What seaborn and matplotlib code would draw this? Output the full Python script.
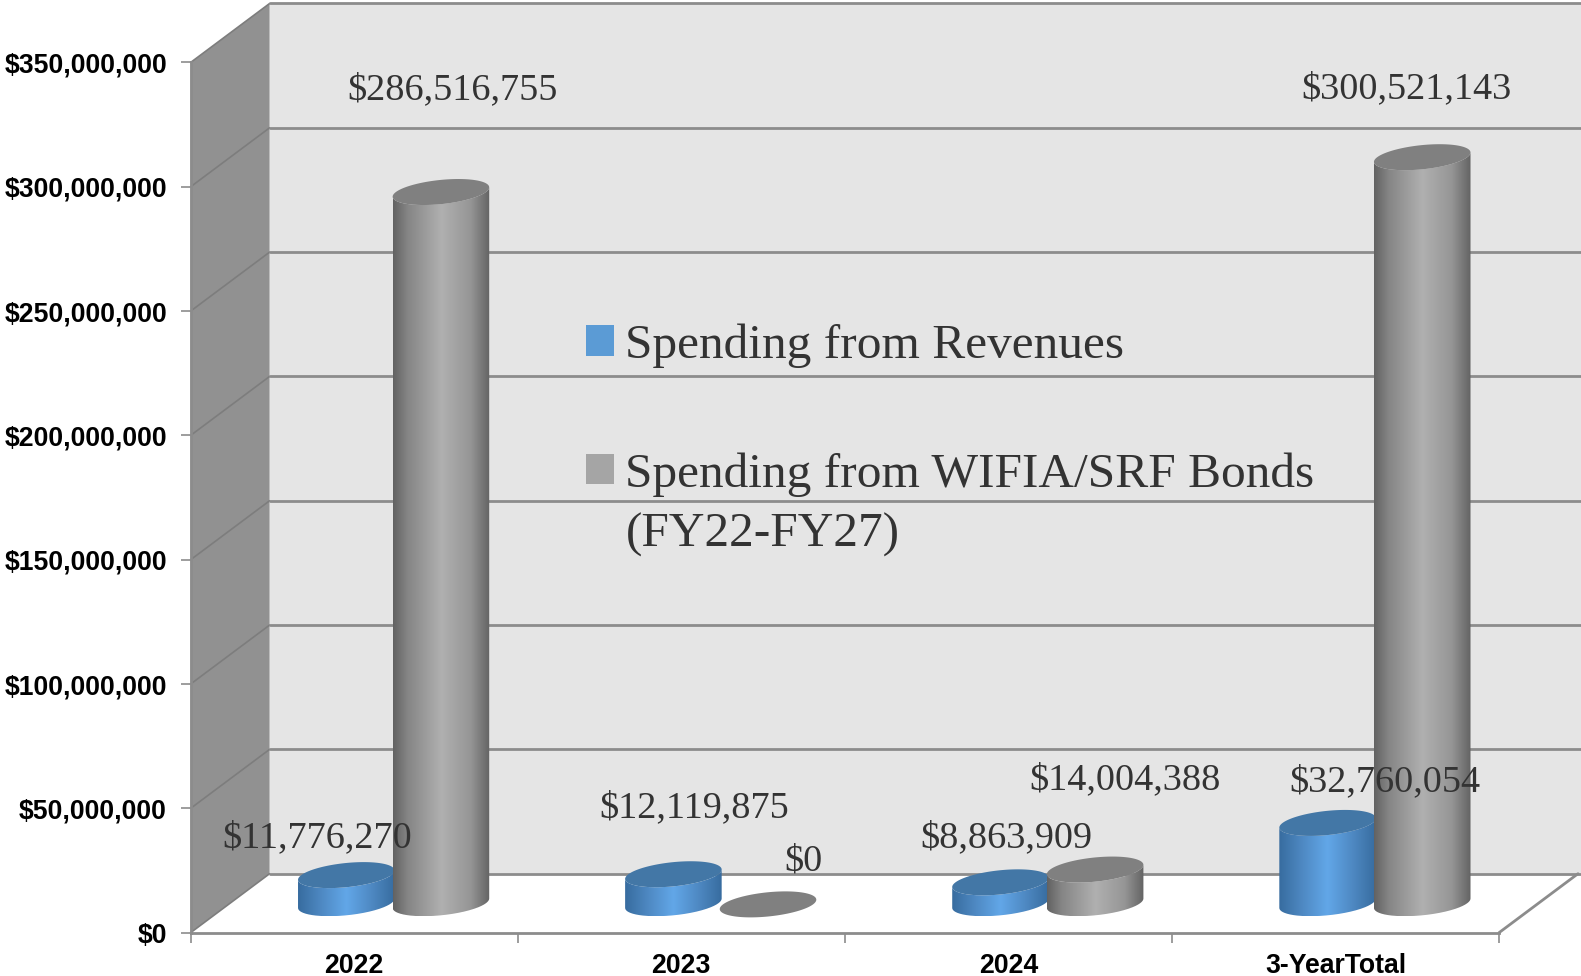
import numpy as np
import pandas as pd
import seaborn as sns
import matplotlib
matplotlib.use('Agg')
import matplotlib.pyplot as plt
from matplotlib.colors import LinearSegmentedColormap
from matplotlib.patches import Polygon
from matplotlib.path import Path
from matplotlib.transforms import IdentityTransform

years = ['2022', '2023', '2024', '3-YearTotal']
revenues = [11776270, 12119875, 8863909, 32760054]
bonds = [286516755, 0, 14004388, 300521143]
source_names = ['Spending from Revenues', 'Spending from WIFIA/SRF Bonds']
value_ticks = [0, 50000000, 100000000, 150000000, 200000000, 250000000, 300000000, 350000000]

df = pd.DataFrame({
    'year': years * 2,
    'amount': revenues + bonds,
    'source': [source_names[0]] * 4 + [source_names[1]] * 4,
})

sns.set_theme(style='white')
plt.rcParams['font.family'] = ['Liberation Sans', 'DejaVu Sans']

W, H = 1581, 976
DEPTH_X, DEPTH_Y = 79, 59
GRID = '#8c8c8c'
SERIF = 'Liberation Serif'

fig = plt.figure(figsize=(W / 100, H / 100), dpi=100)
fig.patch.set_facecolor('white')
ax = fig.add_axes([190.6 / W, 43.3 / H, (1499 - 190.6) / W, (932.7 - 62.5) / H])
ax.patch.set_alpha(0)

sns.barplot(data=df, x='year', y='amount', hue='source', order=years, hue_order=source_names,
            palette=['#5b9bd5', '#a5a5a5'], width=0.6, gap=0, saturation=1, ax=ax)
ax.set_xlim(-0.5, 3.5)
ax.set_ylim(0, 350000000)
ax.autoscale(False)
ax.set_xlabel('')
ax.set_ylabel('')

disp = IdentityTransform()
fig.canvas.draw()


def to_px(x, y, depth=0.0):
    px, py = ax.transData.transform((x, y))
    return px + depth * DEPTH_X, py + depth * DEPTH_Y


def shape(points, **kw):
    ax.add_patch(Polygon(points, closed=True, transform=disp, clip_on=False, **kw))


# walls and floor of the fake 3d box
shape([to_px(-0.5, 0), to_px(-0.5, 350000000), to_px(-0.5, 350000000, 1), to_px(-0.5, 0, 1)],
      facecolor='#919191', edgecolor='none', zorder=0.1)
back_right = (W + 2, to_px(-0.5, 350000000, 1)[1])
shape([to_px(-0.5, 0, 1), to_px(-0.5, 350000000, 1), back_right, (W + 2, to_px(3.5, 0, 1)[1])],
      facecolor='#e5e5e5', edgecolor='none', zorder=0.1)
shape([to_px(-0.5, 0), to_px(3.5, 0), to_px(3.5, 0, 1), to_px(-0.5, 0, 1)],
      facecolor='white', edgecolor='none', zorder=0.1)

for v in value_ticks:
    x0, y0 = to_px(-0.5, v)
    x1, y1 = to_px(-0.5, v, 1)
    ax.plot([x0, x1], [y0, y1], color='#7d7d7d', lw=1.2, transform=disp, clip_on=False, zorder=0.2)
    ax.plot([x1, W + 2], [y1, y1], color=GRID, lw=2, transform=disp, clip_on=False, zorder=0.2)
x0, y0 = to_px(3.5, 0)
x1, y1 = to_px(3.5, 0, 1)
ax.plot([x0, x1], [y0, y1], color=GRID, lw=2, transform=disp, clip_on=False, zorder=0.2)

blue_map = LinearSegmentedColormap.from_list('blue_cyl', ['#376c9f', '#4f8ac4', '#62a7e8', '#4f8ac4', '#376c9f'])
gray_map = LinearSegmentedColormap.from_list(
    'gray_cyl', [(0, '#626262'), (0.15, '#858585'), (0.5, '#b0b0b0'), (0.8, '#969696'), (1, '#636363')])
top_colors = ['#4377a6', '#808080']
grad = np.linspace(0, 1, 256).reshape(1, -1)
t = np.linspace(0, 2 * np.pi, 241)


def ellipse_pts(cx, cy, rx):
    rz = 13.0
    skew = rz * DEPTH_X / DEPTH_Y
    a = np.sqrt(rx ** 2 - skew ** 2)
    return cx + a * np.cos(t) + skew * np.sin(t), cy + rz * np.sin(t)


label_shift = [
    [(-27, 37), (23, 66), (8, 44), (60, 41)],
    [(11, 102), (34, 43), (29, 90), (-17, 68)],
]
value_text = [revenues, bonds]
# blue cylinders sit slightly under the gray ones
overlap = [3.5, 0]

legend_handles, legend_labels = ax.get_legend_handles_labels()
lg = ax.legend(legend_handles, legend_labels, frameon=False, loc='upper left',
               bbox_to_anchor=(0.3024, 0.70), prop={'family': SERIF, 'size': 35.6},
               labelcolor='#333333', handlelength=0.57, handleheight=0.57, handletextpad=0.22,
               labelspacing=1.7, borderpad=0, borderaxespad=0)
for h in lg.legend_handles:
    h.set_edgecolor('none')

for s, bars in enumerate(ax.containers):
    for i, bar in enumerate(bars):
        bar.set_visible(False)
        left, bottom = to_px(bar.get_x(), 0, 0.5)
        right, top = to_px(bar.get_x() + bar.get_width(), bar.get_height(), 0.48)
        cx = (left + right) / 2 + overlap[s] - 1
        rx = (right - left) / 2
        zo = 2 + i + s * 0.5
        bx, by = ellipse_pts(cx, bottom, rx)
        tx, ty = ellipse_pts(cx, top, rx)
        if bar.get_height() > 0:
            il, ir = np.argmin(bx), np.argmax(bx)
            lo = np.roll(np.arange(240), -il)
            lo = lo[:((ir - il) % 240) + 1]
            outline = np.r_[np.c_[bx[lo], by[lo]], np.c_[tx[lo][::-1], ty[lo][::-1]]]
            im = ax.imshow(grad, extent=(bx.min(), bx.max(), by.min(), ty.max()), transform=disp,
                           cmap=[blue_map, gray_map][s], aspect='auto', zorder=zo, clip_on=True)
            im.set_clip_path(Path(outline), disp)
        shape(np.c_[tx, ty], facecolor=top_colors[s], edgecolor='none', zorder=zo + 0.1)
        dx, dy = label_shift[s][i]
        ax.text(cx - overlap[s] + 1 + dx, top + dy, '${:,}'.format(value_text[s][i]), transform=disp, family=SERIF,
                fontsize=27.5, color='#333333', ha='center', va='center', zorder=20, clip_on=False)

ax.text(0.3324, 0.457, '(FY22-FY27)', transform=ax.transAxes, family=SERIF, fontsize=35.6,
        color='#333333', ha='left', va='center', zorder=20)

sns.despine(ax=ax, top=True, right=True)
for side in ['left', 'bottom']:
    ax.spines[side].set_color(GRID)
    ax.spines[side].set_linewidth(2)
    ax.spines[side].set_zorder(1)
ax.set_yticks(value_ticks)
ax.set_yticklabels(['${:,}'.format(v) for v in value_ticks], fontsize=19.2, fontweight='bold', color='black')
ax.set_xticks(range(4))
ax.set_xticklabels(years, fontsize=19.2, fontweight='bold', color='black')
ax.set_xticks([-0.5, 0.5, 1.5, 2.5, 3.5], minor=True)
ax.tick_params(axis='x', which='major', length=0, pad=14.5)
ax.tick_params(axis='x', which='minor', length=7, width=1.2, color=GRID, bottom=True)
ax.tick_params(axis='y', which='major', length=7, width=1.2, color=GRID, left=True, pad=10)

fig.savefig('out.png', dpi=100)
